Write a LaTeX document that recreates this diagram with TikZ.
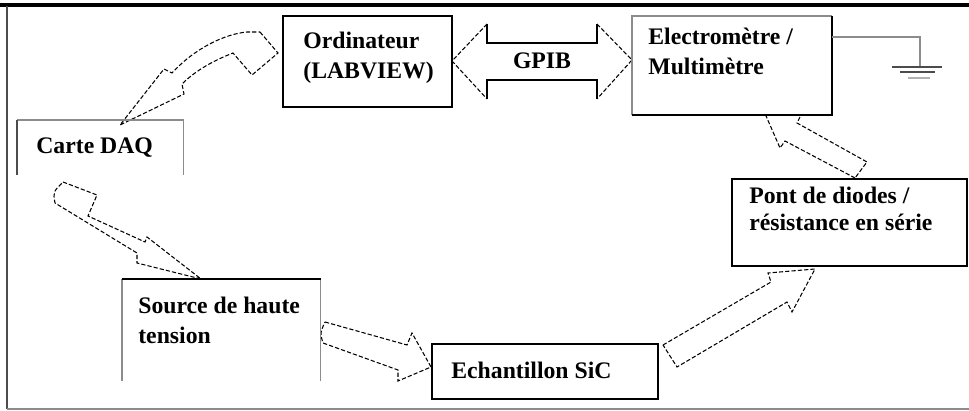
\documentclass[tikz,border=0pt]{standalone}
\usepackage{fontspec}
\setmainfont{Liberation Serif}
\usetikzlibrary{positioning}

\begin{document}
\begin{tikzpicture}[
    x=0.02cm, y=-0.02cm,
    box/.style={anchor=north west, inner sep=0pt, outer sep=0pt},
    txt/.style={inner sep=0pt, align=left, font=\fontsize{13.5}{17}\selectfont\bfseries},
    flow/.style={draw, line width=0.6pt, dash pattern=on 2.4pt off 1.2pt, fill=white},
    dark/.style={draw=black, line width=0.9pt},
    light/.style={draw=black!45, line width=0.6pt}
  ]
    \useasboundingbox (0,0) rectangle (969,411);

    % cadre
    \draw[line width=2.6pt] (0,5) -- (969,5);
    \draw[black!70, line width=1.2pt] (7,6) -- (7,409);
    \draw[black!45, line width=0.8pt] (7,409) -- (969,409);

    % fleches
    \path[fill=white] (452,61) -- (487,24) -- (487,43) -- (597,43) -- (597,24) -- (632,60)
      -- (597,99) -- (597,80) -- (487,80) -- (487,99) -- cycle;
    \draw[flow] (487,24) -- (452,61) -- (487,99);
    \draw[flow] (597,24) -- (632,60) -- (597,99);
    \draw[line width=0.7pt] (487,24) -- (487,43) -- (597,43) -- (597,24);
    \draw[line width=0.7pt] (487,99) -- (487,80) -- (597,80) -- (597,99);
    \node[txt] (gpib) at (542,61) {GPIB};

    \draw[flow] (260,32) -- (278,53) -- (252,75) -- (233,53) .. controls (215,60) and (196,70) .. (182,84)
      -- (184,94) -- (120,125) -- (164,69) -- (172,73) .. controls (195,48) and (225,34) .. (247,32) -- cycle;
    \draw[flow] (63,182) -- (97,195) -- (88,216) -- (145,242) -- (147,237) -- (201,279) -- (137,263)
      -- (137,253) -- (55,203) .. controls (53,192) .. (63,182) -- cycle;
    \draw[flow] (325,322) -- (407,345) -- (412,333) -- (431,367) -- (398,381) -- (398,370)
      -- (323,343) .. controls (320,333) .. (325,322) -- cycle;
    \draw[flow] (663,345) -- (771,282) -- (768,273) -- (815,269) -- (792,312) -- (787,302) -- (677,367) -- cycle;
    \draw[flow] (855,178) -- (785,141) -- (780,148) -- (763,109) -- (803,111) -- (797,123) -- (867,162) -- cycle;

    % blocs
    \node[box, dark, minimum width=3.38cm, minimum height=1.82cm] (ordi) at (283,16) {};
    \node[txt, below right=0.32cm and 0.4cm of ordi.north west] (ordiT) {Ordinateur\\(LABVIEW)};

    \node[box, fill=white, minimum width=4cm, minimum height=1.98cm] (elec) at (632,16) {};
    \draw[light] (elec.south west) -- (elec.north west) -- (elec.north east);
    \draw[dark] (elec.north east) -- (elec.south east) -- (elec.south west);
    \node[txt, below right=0.24cm and 0.32cm of elec.north west] (elecT) {Electromètre /\\Multimètre};

    \node[box, minimum width=3.34cm, minimum height=1.1cm] (daq) at (17,120) {};
    \draw[light] (daq.north west) -- (daq.north east) -- (daq.south east);
    \draw[black!70, line width=0.6pt] (daq.north west) -- (daq.south west);
    \node[txt, below right=0.34cm and 0.38cm of daq.north west] (daqT) {Carte DAQ};

    \node[box, minimum width=3.98cm, minimum height=2.04cm] (source) at (122,279) {};
    \draw[light] (source.south west) -- (source.north west);
    \draw[light] (source.north east) -- (source.south east);
    \draw[dark] (source.north west) -- (source.north east);
    \node[txt, below right=0.36cm and 0.32cm of source.north west] (sourceT) {Source de haute\\tension};

    \node[box, dark, minimum width=4.52cm, minimum height=1.1cm] (echan) at (432,344) {};
    \node[txt, below right=0.36cm and 0.38cm of echan.north west] (echanT) {Echantillon SiC};

    \node[box, dark, minimum width=4.7cm, minimum height=1.74cm] (pont) at (732,179) {};
    \node[txt, below right=0.16cm and 0.34cm of pont.north west, font=\fontsize{13.5}{15}\selectfont\bfseries] (pontT)
      {Pont de diodes /\\résistance en série};

    % masse
    \coordinate (gnd) at (920,67);
    \draw[light] (832,37) -- (920,37) -- (gnd);
    \draw[black!70, line width=0.9pt] (892,67) -- (942,67);
    \draw[black!70, line width=0.9pt] (900,72) -- (935,72);
    \draw[black!30, line width=0.9pt] (908,78) -- (930,78);
\end{tikzpicture}
\end{document}
